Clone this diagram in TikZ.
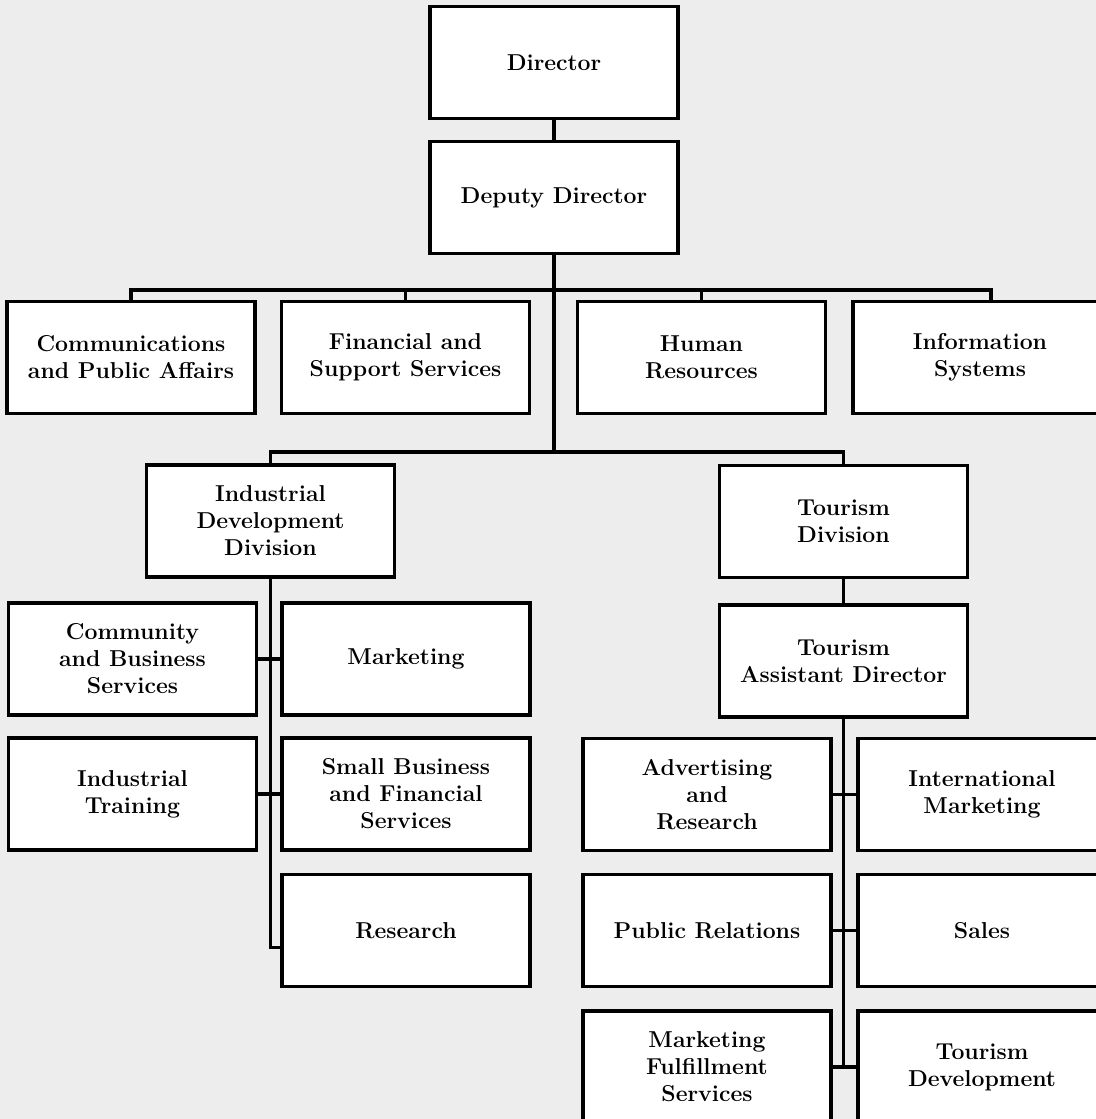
\documentclass[tikz,border=0pt]{standalone}
\begin{document}
\begin{tikzpicture}[x=0.5pt, y=-0.5pt,
            unit/.style={draw, line width=1.9pt, fill=white, minimum width=124pt, minimum height=56pt,
                inner sep=0pt, align=center, font=\fontsize{11.5}{13.5}\selectfont\bfseries},
            link/.style={line width=1.7pt}]
            \useasboundingbox (0,0) rectangle (1096,1119);
            \clip (0,0) rectangle (1096,1119);
            \fill[black!7] (0,0) rectangle (1096,1119);

            \coordinate (bus1) at (0,290);
            \coordinate (bus2) at (0,452);

            \node[unit] (dir) at (554,62.5) {Director};
            \node[unit] (dep) at (554,197.5) {Deputy Director};

            \node[unit] (comm) at (131,357.5) {Communications\\and Public Affairs};
            \node[unit] (fin) at (405.5,357.5) {Financial and\\Support Services};
            \node[unit] (hr) at (701.5,357.5) {Human\\Resources};
            \node[unit, minimum width=138pt] (is) at (991,357.5) {\hspace*{-11pt}Information\\\hspace*{-11pt}Systems};

            \node[unit] (idd) at (270.5,521) {Industrial\\Development\\Division};
            \node[unit] (td) at (843.5,521.5) {Tourism\\Division};
            \node[unit] (tad) at (843.5,661) {Tourism\\Assistant Director};

            \node[unit] (cbs) at (132.5,659) {Community\\and Business\\Services};
            \node[unit] (mkt) at (406,659) {Marketing};
            \node[unit] (itr) at (132.5,794) {Industrial\\Training};
            \node[unit] (sbf) at (406,794) {Small Business\\and Financial\\Services};
            \node[unit] (res) at (406,930.5) {Research};

            \node[unit] (adv) at (707,794.5) {Advertising\\and\\Research};
            \node[unit] (im) at (982,794.5) {International\\Marketing};
            \node[unit] (pr) at (707,930.5) {Public Relations};
            \node[unit] (sales) at (982,930.5) {Sales};
            \node[unit] (mfs) at (707,1067) {Marketing\\Fulfillment\\Services};
            \node[unit] (tdev) at (982,1067) {Tourism\\Development};

            \draw[link] (dir) -- (dep);
            \draw[link] (dep.south) -- (dep.south |- bus2);
            \draw[link] (comm.north) -- (comm.north |- bus1) -- (is.north |- bus1) -- (is.north);
            \foreach \n in {fin, hr}
                \draw[link] (\n.north) -- (\n.north |- bus1);
            \draw[link] (idd.north) -- (idd.north |- bus2) -- (td.north |- bus2) -- (td.north);
            \draw[link] (td) -- (tad);

            \draw[link] (idd.south) |- ([yshift=-8.5pt]res.west);
            \draw[link] (tad.south) -- (tad.south |- mfs.east);
            \foreach \a/\b in {cbs/mkt, itr/sbf, adv/im, pr/sales, mfs/tdev}
                \draw[link] (\a.east) -- (\b.west);
        \end{tikzpicture}
\end{document}
